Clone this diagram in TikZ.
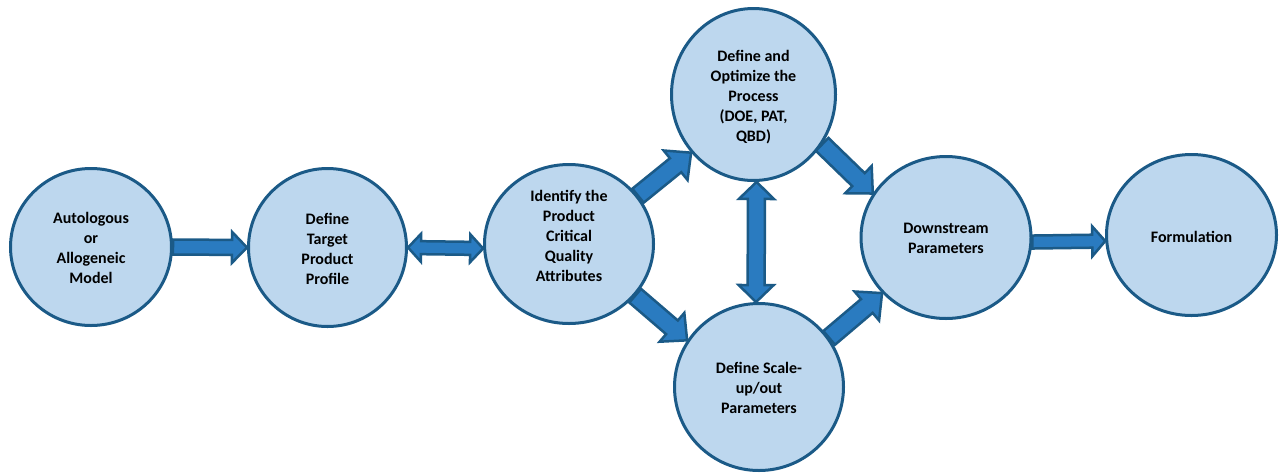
\documentclass[tikz,border=0pt]{standalone}
\usepackage{fontspec}
\setmainfont{Carlito}
\usetikzlibrary{calc,shapes.geometric}
\definecolor{circfill}{HTML}{BDD7EE}
\definecolor{darkline}{HTML}{1B5A87}
\definecolor{arrfill}{HTML}{2A7BC0}
\tikzset{
  circ/.style={ellipse, draw=darkline, fill=circfill, line width=3pt, inner sep=0pt},
  lbl/.style={align=center, font=\fontsize{16}{20}\selectfont\bfseries, inner sep=0pt},
  barrow/.style={fill=arrfill, draw=darkline, line width=2.5pt, line join=miter}
}
% single block arrow: start, end, shaft half width, head half width, head length
\newcommand\sarrow[5]{%
  \coordinate (aS) at (#1);
  \coordinate (aE) at (#2);
  \coordinate (aH) at ($(aE)!#5!(aS)$);
  \filldraw[barrow] ($(aS)!#3!90:(aE)$) -- ($(aH)!#3!90:(aE)$) -- ($(aH)!#4!90:(aE)$) -- (aE)
    -- ($(aH)!#4!-90:(aE)$) -- ($(aH)!#3!-90:(aE)$) -- ($(aS)!#3!-90:(aE)$) -- cycle;
}
% double block arrow
\newcommand\darrow[5]{%
  \coordinate (aS) at (#1);
  \coordinate (aE) at (#2);
  \coordinate (aH) at ($(aE)!#5!(aS)$);
  \coordinate (aG) at ($(aS)!#5!(aE)$);
  \filldraw[barrow] (aS) -- ($(aG)!#4!90:(aE)$) -- ($(aG)!#3!90:(aE)$) -- ($(aH)!#3!-90:(aS)$)
    -- ($(aH)!#4!-90:(aS)$) -- (aE) -- ($(aH)!#4!90:(aS)$) -- ($(aH)!#3!90:(aS)$)
    -- ($(aG)!#3!-90:(aE)$) -- ($(aG)!#4!-90:(aE)$) -- cycle;
}
\begin{document}
\begin{tikzpicture}[x=1pt,y=-1pt]
\useasboundingbox (0,0) rectangle (1280,472);
\node[circ, minimum width=161pt, minimum height=157pt] (c1) at (91,247) {};
\node[circ, minimum width=158pt, minimum height=158pt] (c2) at (327.5,247.5) {};
\node[circ, minimum width=169pt, minimum height=159pt] (c3) at (569,244) {};
\node[circ, minimum width=164pt, minimum height=172pt] (c4) at (753.5,94.5) {};
\node[circ, minimum width=169pt, minimum height=167pt] (c5) at (759,387) {};
\node[circ, minimum width=170pt, minimum height=162pt] (c6) at (946,237.5) {};
\node[circ, minimum width=170pt, minimum height=161pt] (c7) at (1191.5,235) {};

\node[lbl] (t1) at ([yshift=-1pt]c1) {Autologous\\or\\Allogeneic\\Model};
\node[lbl] (t2) at ([yshift=-1pt]c2) {Define\\Target\\Product\\Profile};
\node[lbl] (t3) at ([yshift=8pt]c3) {Identify the\\Product\\Critical\\Quality\\Attributes};
\node[lbl] (t4) at ([yshift=-2.5pt]c4) {Define and\\Optimize the\\Process\\(DOE, PAT,\\QBD)};
\node[lbl] (t5) at ([yshift=-1pt]c5) {Define Scale-\\up/out\\Parameters};
\node[lbl] (t6) at ([yshift=-0.5pt]c6) {Downstream\\Parameters};
\node[lbl] (t7) at ([yshift=-2pt]c7) {Formulation};

\sarrow{c1.east}{c2.west}{7.5pt}{15.5pt}{15pt}
\darrow{c2.east}{c3.183}{6.5pt}{14pt}{13pt}
\sarrow{c3.35}{c4.223}{9pt}{19pt}{20pt}
\sarrow{c3.-38}{c5.147}{9pt}{19pt}{20pt}
\sarrow{c4.-36}{c6.149}{9pt}{19pt}{20pt}
\sarrow{c5.35}{c6.221}{9pt}{19pt}{20pt}
\darrow{c4.-88}{c5.92}{8.5pt}{17.5pt}{17pt}
\sarrow{c6.-3}{c7.184}{6.5pt}{15pt}{13pt}
\end{tikzpicture}
\end{document}
